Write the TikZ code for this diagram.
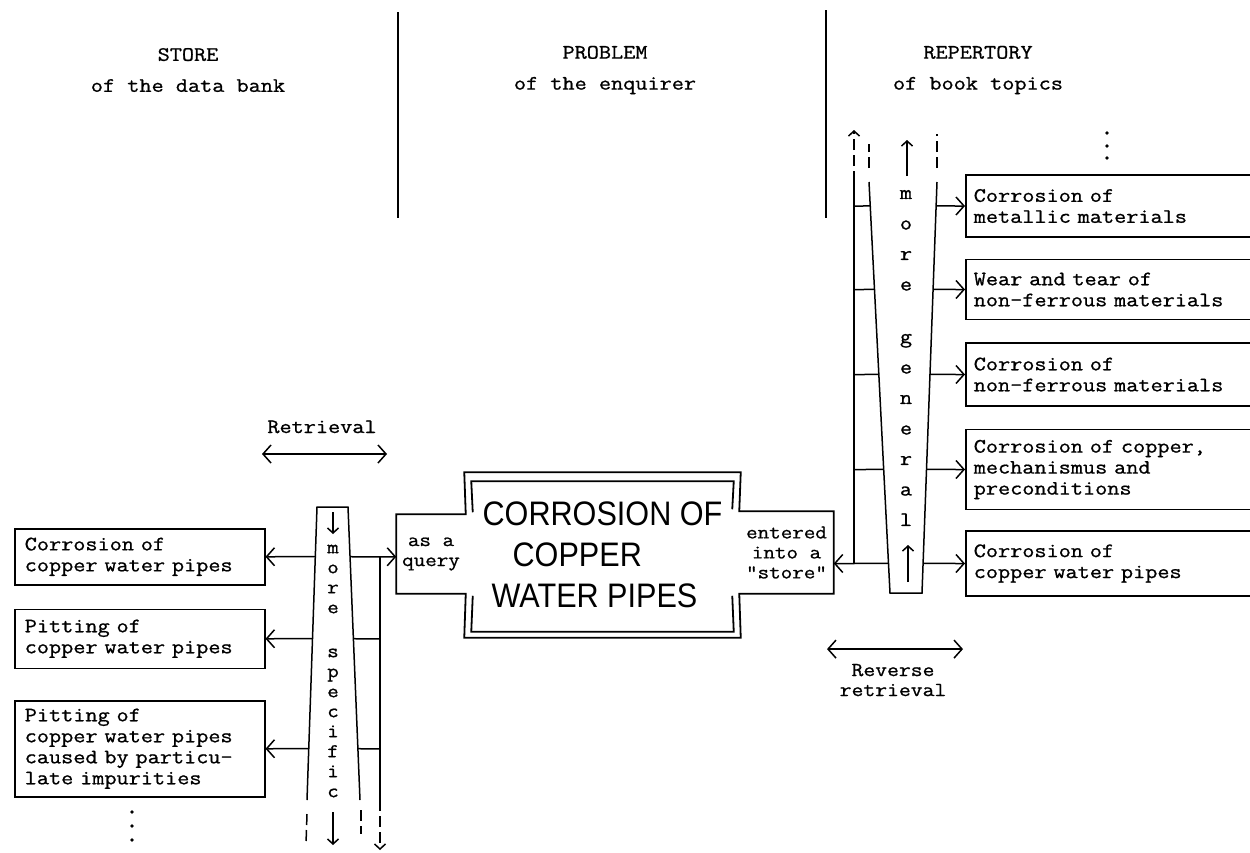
\documentclass[tikz,border=0pt]{standalone}
\usepackage{fontspec}
\setmainfont{Latin Modern Mono}[FakeBold=0.9, FakeStretch=1.15]
\newfontfamily\bigsans{Liberation Sans}[FakeStretch=0.9]
\usetikzlibrary{positioning,arrows.meta,calc}

\begin{document}
\begin{tikzpicture}[x=1pt, y=-1pt, line width=1.5pt,
  box/.style={draw, align=left, inner xsep=10pt, inner ysep=0pt, font=\fontsize{20.5}{21}\selectfont},
  stbox/.style={box, text width=230pt},
  rpbox/.style={box, text width=280pt, inner xsep=8pt},
  txt/.style={align=center, inner sep=0pt, font=\fontsize{20.5}{21}\selectfont},
  arr/.style={-{Straight Barb[length=8pt,width=18pt]}},
  darr/.style={{Straight Barb[length=8pt,width=18pt]}-{Straight Barb[length=8pt,width=18pt]}},
  garr/.style={-{Straight Barb[length=5pt,width=11pt]}},
  dsh/.style={dash pattern=on 11pt off 5pt},
]
\useasboundingbox (0,0) rectangle (1250,852);

% headings
\node[txt, font=\fontsize{20.5}{31}\selectfont] (hstore) at (188,70) {STORE\\of the data bank};
\node[txt, font=\fontsize{20.5}{31}\selectfont] (hprob) at (605,70) {PROBLEM\\of the enquirer};
\node[txt, font=\fontsize{20.5}{31}\selectfont] (hrep) at (978,70) {REPERTORY\\of book topics};
\draw[line width=2.2pt] (398,12) -- (398,218);
\draw[line width=2.2pt] (826,10) -- (826,218);

% the problem
\node[inner sep=0pt, minimum width=275pt, minimum height=164pt, align=left,
  font=\bigsans\fontsize{34}{41}\selectfont] (prob) at (602.5,555)
  {CORROSION OF\\\hspace*{30pt}COPPER\\\hspace*{9pt}WATER PIPES};
\node[txt, font=\fontsize{19.5}{20}\selectfont, minimum width=68pt, minimum height=78pt] (qry) at (431,554) {as a\\query};
\node[txt, font=\fontsize{19.5}{20}\selectfont, minimum width=93pt, minimum height=81pt] (ent) at (786.5,552.5) {entered\\into a\\\symbol{34}store\symbol{34}};
\draw[line width=1.8pt] (qry.north west) -- (qry.north east) -- (prob.north west) -- (prob.north east)
  -- (ent.north west) -- (ent.north east) -- (ent.south east) -- (ent.south west)
  -- (prob.south east) -- (prob.south west) -- (qry.south east) -- (qry.south west) -- cycle;
\draw[line width=1.8pt] ($(qry.north east)+(7,-2)$) -- ($(prob.north west)+(7,9)$)
  -- ($(prob.north east)+(-7,9)$) -- ($(ent.north west)+(-7,-2)$);
\draw[line width=1.8pt] ($(qry.south east)+(7,2)$) -- ($(prob.south west)+(7,-6)$)
  -- ($(prob.south east)+(-7,-6)$) -- ($(ent.south west)+(-7,2)$);

% store of the data bank
\node[stbox, minimum height=56pt, anchor=north west] (st1) at (14,528) {Corrosion of\\copper water pipes};
\node[stbox, minimum height=59pt, below=23pt of st1] (st2) {Pitting of\\copper water pipes};
\node[stbox, minimum height=96pt, below=31pt of st2] (st3) {Pitting of\\copper water pipes\\caused by particu-\\late impurities};
\foreach \y in {812,826,840} \fill (132,\y) circle (1.8pt);

% more specific
\coordinate (ltl) at (317,507);
\coordinate (ltr) at (348,507);
\coordinate (lbl) at (307,800);
\coordinate (lbr) at (360,800);
\coordinate (bbl) at (380,800);
\draw (lbl) -- (ltl) -- (ltr) -- (lbr);
\draw[dsh] ($(lbl)+(0,14)$) -- ++(-1,30);
\draw[dsh] ($(lbr)+(1,10)$) -- ++(0,24);
\node[txt, font=\fontsize{19.5}{20}\selectfont] (spec) at (333,671) {m\\o\\r\\e\\[24pt]s\\p\\e\\c\\i\\f\\i\\c};
\draw[garr] (333,512) -- (333,534);
\draw[garr] (333,812) -- (333,845);
\foreach \b in {st1,st2,st3}
  \draw[arr] (intersection of ltl--lbl and \b.east--\b.west) -- (\b.east);
\foreach \b in {st2,st3}
  \draw (intersection of ltr--lbr and \b.east--\b.west) -- (\b.east -| bbl);
\draw[arr] (intersection of ltr--lbr and st1.east--st1.west) -- (st1.east -| qry.west);
\draw (st1.east -| bbl) -- (bbl);
\draw[dsh, garr] (bbl) -- ++(0,50);

\node[txt, anchor=base] (retr) at (322,433) {Retrieval};
\draw[darr] ($(retr.south)+(-60,20)$) -- ($(retr.south)+(65,20)$);

% repertory of book topics
\node[rpbox, minimum height=62pt, anchor=west] (rp1) at (965,206) {Corrosion of\\metallic materials};
\node[rpbox, minimum height=60pt, below=21pt of rp1] (rp2) {Wear and tear of\\non-ferrous materials};
\node[rpbox, minimum height=63pt, below=22pt of rp2] (rp3) {Corrosion of\\non-ferrous materials};
\node[rpbox, minimum height=80pt, below=22pt of rp3] (rp4) {Corrosion of copper,\\mechanismus and\\preconditions};
\node[rpbox, minimum height=65pt, below=20pt of rp4] (rp5) {Corrosion of\\copper water pipes};
\foreach \y in {133,146,158} \fill (1107,\y) circle (1.8pt);

% more general
\coordinate (rtl) at (869,182);
\coordinate (rtr) at (937,182);
\coordinate (rbl) at (890,593);
\coordinate (rbr) at (922,593);
\coordinate (bbt) at (854,182);
\draw (rtl) -- (rbl) -- (rbr) -- (rtr);
\draw[dsh] ($(rtl)+(0,-14)$) -- ++(0,-24);
\draw[dsh] ($(rtr)+(0,-14)$) -- ++(0,-34);
\node[txt, font=\fontsize{20.5}{30.5}\selectfont] (gen) at (906,358) {m\\o\\r\\e\\[22pt]g\\e\\n\\e\\r\\a\\l};
\draw[garr] (907,176) -- (907,140);
\draw[garr] (908,582) -- (908,545);
\foreach \b in {rp1,rp2,rp3,rp4,rp5}
  \draw[arr] (intersection of rtr--rbr and \b.west--\b.east) -- (\b.west);
\foreach \b in {rp1,rp2,rp3,rp4}
  \draw (\b.west -| bbt) -- (intersection of rtl--rbl and \b.west--\b.east);
\draw[arr] (intersection of rtl--rbl and rp5.west--rp5.east) -- (rp5.west -| ent.east);
\draw (rp5.west -| bbt) -- (bbt);
\draw[dsh, garr] (bbt) -- ++(0,-52);

\node[txt, font=\fontsize{20}{20}\selectfont] (rretr) at (893,680) {Reverse\\retrieval};
\draw[darr] ($(rretr.north)+(-66,-14)$) -- ($(rretr.north)+(70,-14)$);
\end{tikzpicture}
\end{document}
